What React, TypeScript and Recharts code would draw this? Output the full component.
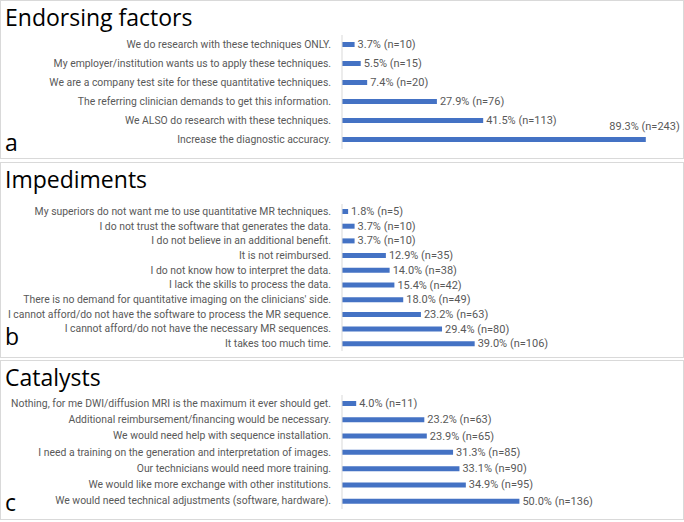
import { BarChart, Bar, XAxis, YAxis, LabelList } from 'recharts';

const endorsingLabels = [
  'We do research with these techniques ONLY.',
  'My employer/institution wants us to apply these techniques.',
  'We are a company test site for these quantitative techniques.',
  'The referring clinician demands to get this information.',
  'We ALSO do research with these techniques.',
  'Increase the diagnostic accuracy.',
];
const endorsingPct = [3.7, 5.5, 7.4, 27.9, 41.5, 89.3];
const endorsingN = [10, 15, 20, 76, 113, 243];

const impedimentLabels = [
  'My superiors do not want me to use quantitative MR techniques.',
  'I do not trust the software that generates the data.',
  'I do not believe in an additional benefit.',
  'It is not reimbursed.',
  'I do not know how to interpret the data.',
  'I lack the skills to process the data.',
  "There is no demand for quantitative imaging on the clinicians' side.",
  'I cannot afford/do not have the software to process the MR sequence.',
  'I cannot afford/do not have the necessary MR sequences.',
  'It takes too much time.',
];
const impedimentPct = [1.8, 3.7, 3.7, 12.9, 14.0, 15.4, 18.0, 23.2, 29.4, 39.0];
const impedimentN = [5, 10, 10, 35, 38, 42, 49, 63, 80, 106];

const catalystLabels = [
  'Nothing, for me DWI/diffusion MRI is the maximum it ever should get.',
  'Additional reimbursement/financing would be necessary.',
  'We would need help with sequence installation.',
  'I need a training on the generation and interpretation of images.',
  'Our technicians would need more training.',
  'We would like more exchange with other institutions.',
  'We would need technical adjustments (software, hardware).',
];
const catalystPct = [4.0, 23.2, 23.9, 31.3, 33.1, 34.9, 50.0];
const catalystN = [11, 63, 65, 85, 90, 95, 136];

const barColor = '#4472c4';
const textGray = '#595959';
const labelFont = 'Roboto, "Open Sans", sans-serif';
const titleFont = '"Open Sans", "Noto Sans", sans-serif';

function buildRows(labels: string[], pct: number[], n: number[]) {
  return labels.map((name, i) => ({ name, value: pct[i], n: n[i] }));
}

// single-line category tick, right aligned against the axis
function CategoryTick(props: any) {
  const { x, y, payload } = props;
  return (
    <text x={x} y={y} textAnchor="end" dominantBaseline="central" fill={textGray} fontSize={10.4} fontFamily={labelFont}>
      {payload.value}
    </text>
  );
}

// value label: to the right of the bar, or above it when there is no room
function makeLabel(rows: { value: number; n: number }[]) {
  return (props: any) => {
    const { x, y, width, height, index } = props;
    const row = rows[index];
    if (!row) return null;
    const text = `${row.value.toFixed(1)}% (n=${row.n})`;
    const end = Number(x) + Number(width);
    const cy = Number(y) + Number(height) / 2;
    if (end + 80 > 684) {
      return (
        <text x={end + 34} y={cy - 13} textAnchor="end" dominantBaseline="central" fill={textGray} fontSize={11} fontFamily={labelFont}>
          {text}
        </text>
      );
    }
    return (
      <text x={end + 3} y={cy} textAnchor="start" dominantBaseline="central" fill={textGray} fontSize={11} fontFamily={labelFont}>
        {text}
      </text>
    );
  };
}

interface PanelProps {
  top: number;
  height: number;
  title: string;
  letter: string;
  letterTop: number;
  chartTop: number;
  chartHeight: number;
  rows: { name: string; value: number; n: number }[];
  maxX: number;
}

function Panel({ top, height, title, letter, letterTop, chartTop, chartHeight, rows, maxX }: PanelProps) {
  return (
    <div
      style={{
        position: 'absolute',
        left: 0,
        top,
        width: 682,
        height,
        border: '1px solid #d9d9d9',
        background: '#fff',
      }}
    >
      <div style={{ position: 'absolute', left: 4, top: 1, fontFamily: titleFont, fontSize: 23, color: '#000', lineHeight: '30px' }}>
        {title}
      </div>
      <div style={{ position: 'absolute', left: 4, top: letterTop, fontFamily: titleFont, fontSize: 23, color: '#000', lineHeight: '30px' }}>
        {letter}
      </div>
      <div style={{ position: 'absolute', left: -1, top: chartTop }}>
        <BarChart
          width={684}
          height={chartHeight}
          data={rows}
          layout="vertical"
          margin={{ top: 0, right: 12, bottom: 0, left: 0 }}
        >
          <XAxis type="number" hide domain={[0, maxX]} />
          <YAxis
            type="category"
            dataKey="name"
            width={342}
            interval={0}
            tickLine={false}
            tickMargin={5}
            axisLine={{ stroke: '#d9d9d9' }}
            tick={<CategoryTick />}
          />
          <Bar dataKey="value" fill={barColor} barSize={5} isAnimationActive={false}>
            <LabelList dataKey="value" content={makeLabel(rows)} />
          </Bar>
        </BarChart>
      </div>
    </div>
  );
}

export default function App() {
  const endorsing = buildRows(endorsingLabels, endorsingPct, endorsingN);
  const impediments = buildRows(impedimentLabels, impedimentPct, impedimentN);
  const catalysts = buildRows(catalystLabels, catalystPct, catalystN);

  return (
    <div style={{ position: 'absolute', left: 0, top: 0, width: 684, height: 522, background: '#fff' }}>
      <Panel
        top={0}
        height={157}
        title="Endorsing factors"
        letter="a"
        letterTop={126}
        chartTop={34}
        chartHeight={114}
        rows={endorsing}
        maxX={97}
      />
      <Panel
        top={162}
        height={194}
        title="Impediments"
        letter="b"
        letterTop={158}
        chartTop={41}
        chartHeight={147}
        rows={impediments}
        maxX={97}
      />
      <Panel
        top={360}
        height={158}
        title="Catalysts"
        letter="c"
        letterTop={126}
        chartTop={34}
        chartHeight={114}
        rows={catalysts}
        maxX={93}
      />
    </div>
  );
}
